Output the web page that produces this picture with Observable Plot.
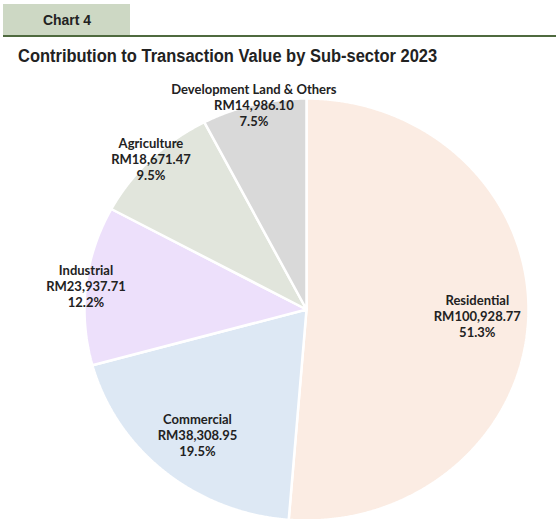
<!DOCTYPE html>
<html>
<head>
<meta charset="utf-8">
<script src="https://cdn.jsdelivr.net/npm/d3@7"></script>
<script src="https://cdn.jsdelivr.net/npm/@observablehq/plot@0.6"></script>
<style>
  html, body { margin: 0; padding: 0; background: #fff; }
  #wrap { position: relative; width: 556px; height: 519px; overflow: hidden; }
  #tag { position: absolute; left: 3px; top: 4px; width: 127px; height: 31px; background: #cdd8c4; }
  #tag span { position: absolute; left: 40px; top: 7px; white-space: nowrap; transform: scaleX(0.93); transform-origin: left center;
         font: bold 15px "Liberation Sans", Arial, sans-serif; color: #222; }
  #rule { position: absolute; left: 3px; right: 0; top: 35px; height: 2px; background: #4f6a3f; }
  #title { position: absolute; left: 18px; top: 46px; white-space: nowrap; transform: scaleX(0.915); transform-origin: left center;
           font: bold 18px "Liberation Sans", Arial, sans-serif; color: #222; }
  #chart { position: absolute; left: 0; top: 80px; }
</style>
</head>
<body>
<div id="wrap">
  <div id="tag"><span>Chart 4</span></div>
  <div id="rule"></div>
  <div id="title">Contribution to Transaction Value by Sub-sector 2023</div>
  <div id="chart"></div>
</div>
<script>
const categories = ["Residential", "Commercial", "Industrial", "Agriculture", "Development Land & Others"];
const values = [100928.77, 38308.95, 23937.71, 18671.47, 14986.10];
const percentLabels = ["51.3%", "19.5%", "12.2%", "9.5%", "7.5%"];
const colors = ["#fbece3", "#dde8f4", "#ede0fb", "#e1e5dc", "#d9d9d9"];

const total = d3.sum(values);
const pie = d3.pie().sort(null).value(d => d)(values);

// slice polygons (angle measured clockwise from 12 o'clock)
const poly = [];
pie.forEach((p, i) => {
  const n = Math.max(2, Math.ceil((p.endAngle - p.startAngle) / 0.005));
  poly.push({cat: categories[i], x: 0, y: 0});
  for (let k = 0; k <= n; k++) {
    const a = p.startAngle + (p.endAngle - p.startAngle) * k / n;
    poly.push({cat: categories[i], x: Math.sin(a), y: Math.cos(a)});
  }
  poly.push({cat: categories[i], x: 0, y: 0});
});

const fmt = d3.format(",.2f");
const labels = pie.map((p, i) => {
  const a = (p.startAngle + p.endAngle) / 2;
  const big = p.value / total > 0.15;
  const r = big ? 0.77 : 1.0;
  return {
    x: r * Math.sin(a), y: r * Math.cos(a),
    text: `${categories[i]}\nRM${fmt(values[i])}\n${percentLabels[i]}`
  };
});

const chart = Plot.plot({
  width: 556,
  height: 440,
  marginLeft: 84,
  marginRight: 28,
  marginTop: 18,
  marginBottom: 0,
  x: {domain: [-1, 1], axis: null},
  y: {domain: [-1, 1], axis: null},
  color: {domain: categories, range: colors},
  marks: [
    Plot.line(poly, {x: "x", y: "y", z: "cat", fill: "cat", stroke: "#fff", strokeWidth: 2.5, strokeLinejoin: "miter", curve: "linear"}),
    Plot.text(labels, {x: "x", y: "y", text: "text", fontSize: 13, fontWeight: "bold", lineHeight: 1.23,
      fill: "#222", fontFamily: "Lato, 'Open Sans', sans-serif"})
  ]
});
chart.style.overflow = "visible";
document.getElementById("chart").appendChild(chart);
</script>
</body>
</html>
